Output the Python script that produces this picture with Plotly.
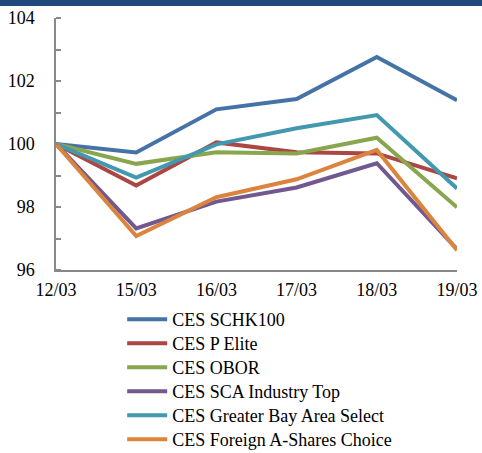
import plotly.graph_objects as go

dates = ["12/03", "15/03", "16/03", "17/03", "18/03", "19/03"]
schk100 = [100, 99.73, 101.10, 101.43, 102.76, 101.39]
p_elite = [100, 98.68, 100.05, 99.74, 99.70, 98.91]
obor = [100, 99.37, 99.74, 99.70, 100.20, 97.99]
sca_top = [100, 97.32, 98.17, 98.62, 99.39, 96.66]
gba_select = [100, 98.93, 99.99, 100.50, 100.92, 98.59]
foreign_a = [100, 97.08, 98.31, 98.88, 99.81, 96.63]

series = [
    ("CES SCHK100", schk100, "#4572A7"),
    ("CES P Elite", p_elite, "#AA4643"),
    ("CES OBOR", obor, "#89A54E"),
    ("CES SCA Industry Top", sca_top, "#71588F"),
    ("CES Greater Bay Area Select", gba_select, "#4198AF"),
    ("CES Foreign A-Shares Choice", foreign_a, "#DB843D"),
]

font = "Times New Roman, Liberation Serif, serif"
fig = go.Figure()
legend_layout = {}
for i, (name, vals, col) in enumerate(series):
    key = "legend" if i == 0 else f"legend{i + 1}"
    fig.add_trace(go.Scatter(x=dates, y=vals, name=name, mode="lines",
                             line=dict(color=col, width=4), legend=key))
    legend_layout[key] = dict(
        x=0.165, y=1 - (301 + 24 * i) / 453, xanchor="left", yanchor="top",
        yref="container", font=dict(family=font, size=18, color="black"),
        itemwidth=40, bgcolor="rgba(0,0,0,0)")

fig.update_layout(
    width=482, height=453,
    margin=dict(l=56, r=25, t=18, b=183, autoexpand=False),
    paper_bgcolor="white", plot_bgcolor="white",
    font=dict(family=font, size=18, color="black"),
    showlegend=True,
    xaxis=dict(type="category", range=[0, 5], showgrid=False, zeroline=False,
               showline=True, linecolor="#888888", linewidth=1.5, ticks="",
               ticklen=0, ticklabelstandoff=3,
               tickfont=dict(family=font, size=18)),
    yaxis=dict(range=[96, 104], tickvals=[96, 98, 100, 102, 104],
               showgrid=False, zeroline=False, showline=True,
               linecolor="#888888", linewidth=1.5, ticks="", ticklabelstandoff=16,
               tickfont=dict(family=font, size=18),
               minor=dict(tickvals=[96, 97, 98, 99, 100, 101, 102, 103, 104],
                          ticks="inside", ticklen=5, tickcolor="#888888",
                          tickwidth=1.5)),
    shapes=[dict(type="rect", xref="paper", yref="paper",
                 x0=-0.2, x1=1.2, y0=1 + 12 / 252, y1=1 + 20 / 252,
                 fillcolor="#1F497D", line=dict(width=0), layer="above")],
    **legend_layout,
)

fig.write_html("out.html", config={"displayModeBar": False},
               post_script="document.body.style.margin='0';"
                           "document.body.style.overflow='hidden';")
